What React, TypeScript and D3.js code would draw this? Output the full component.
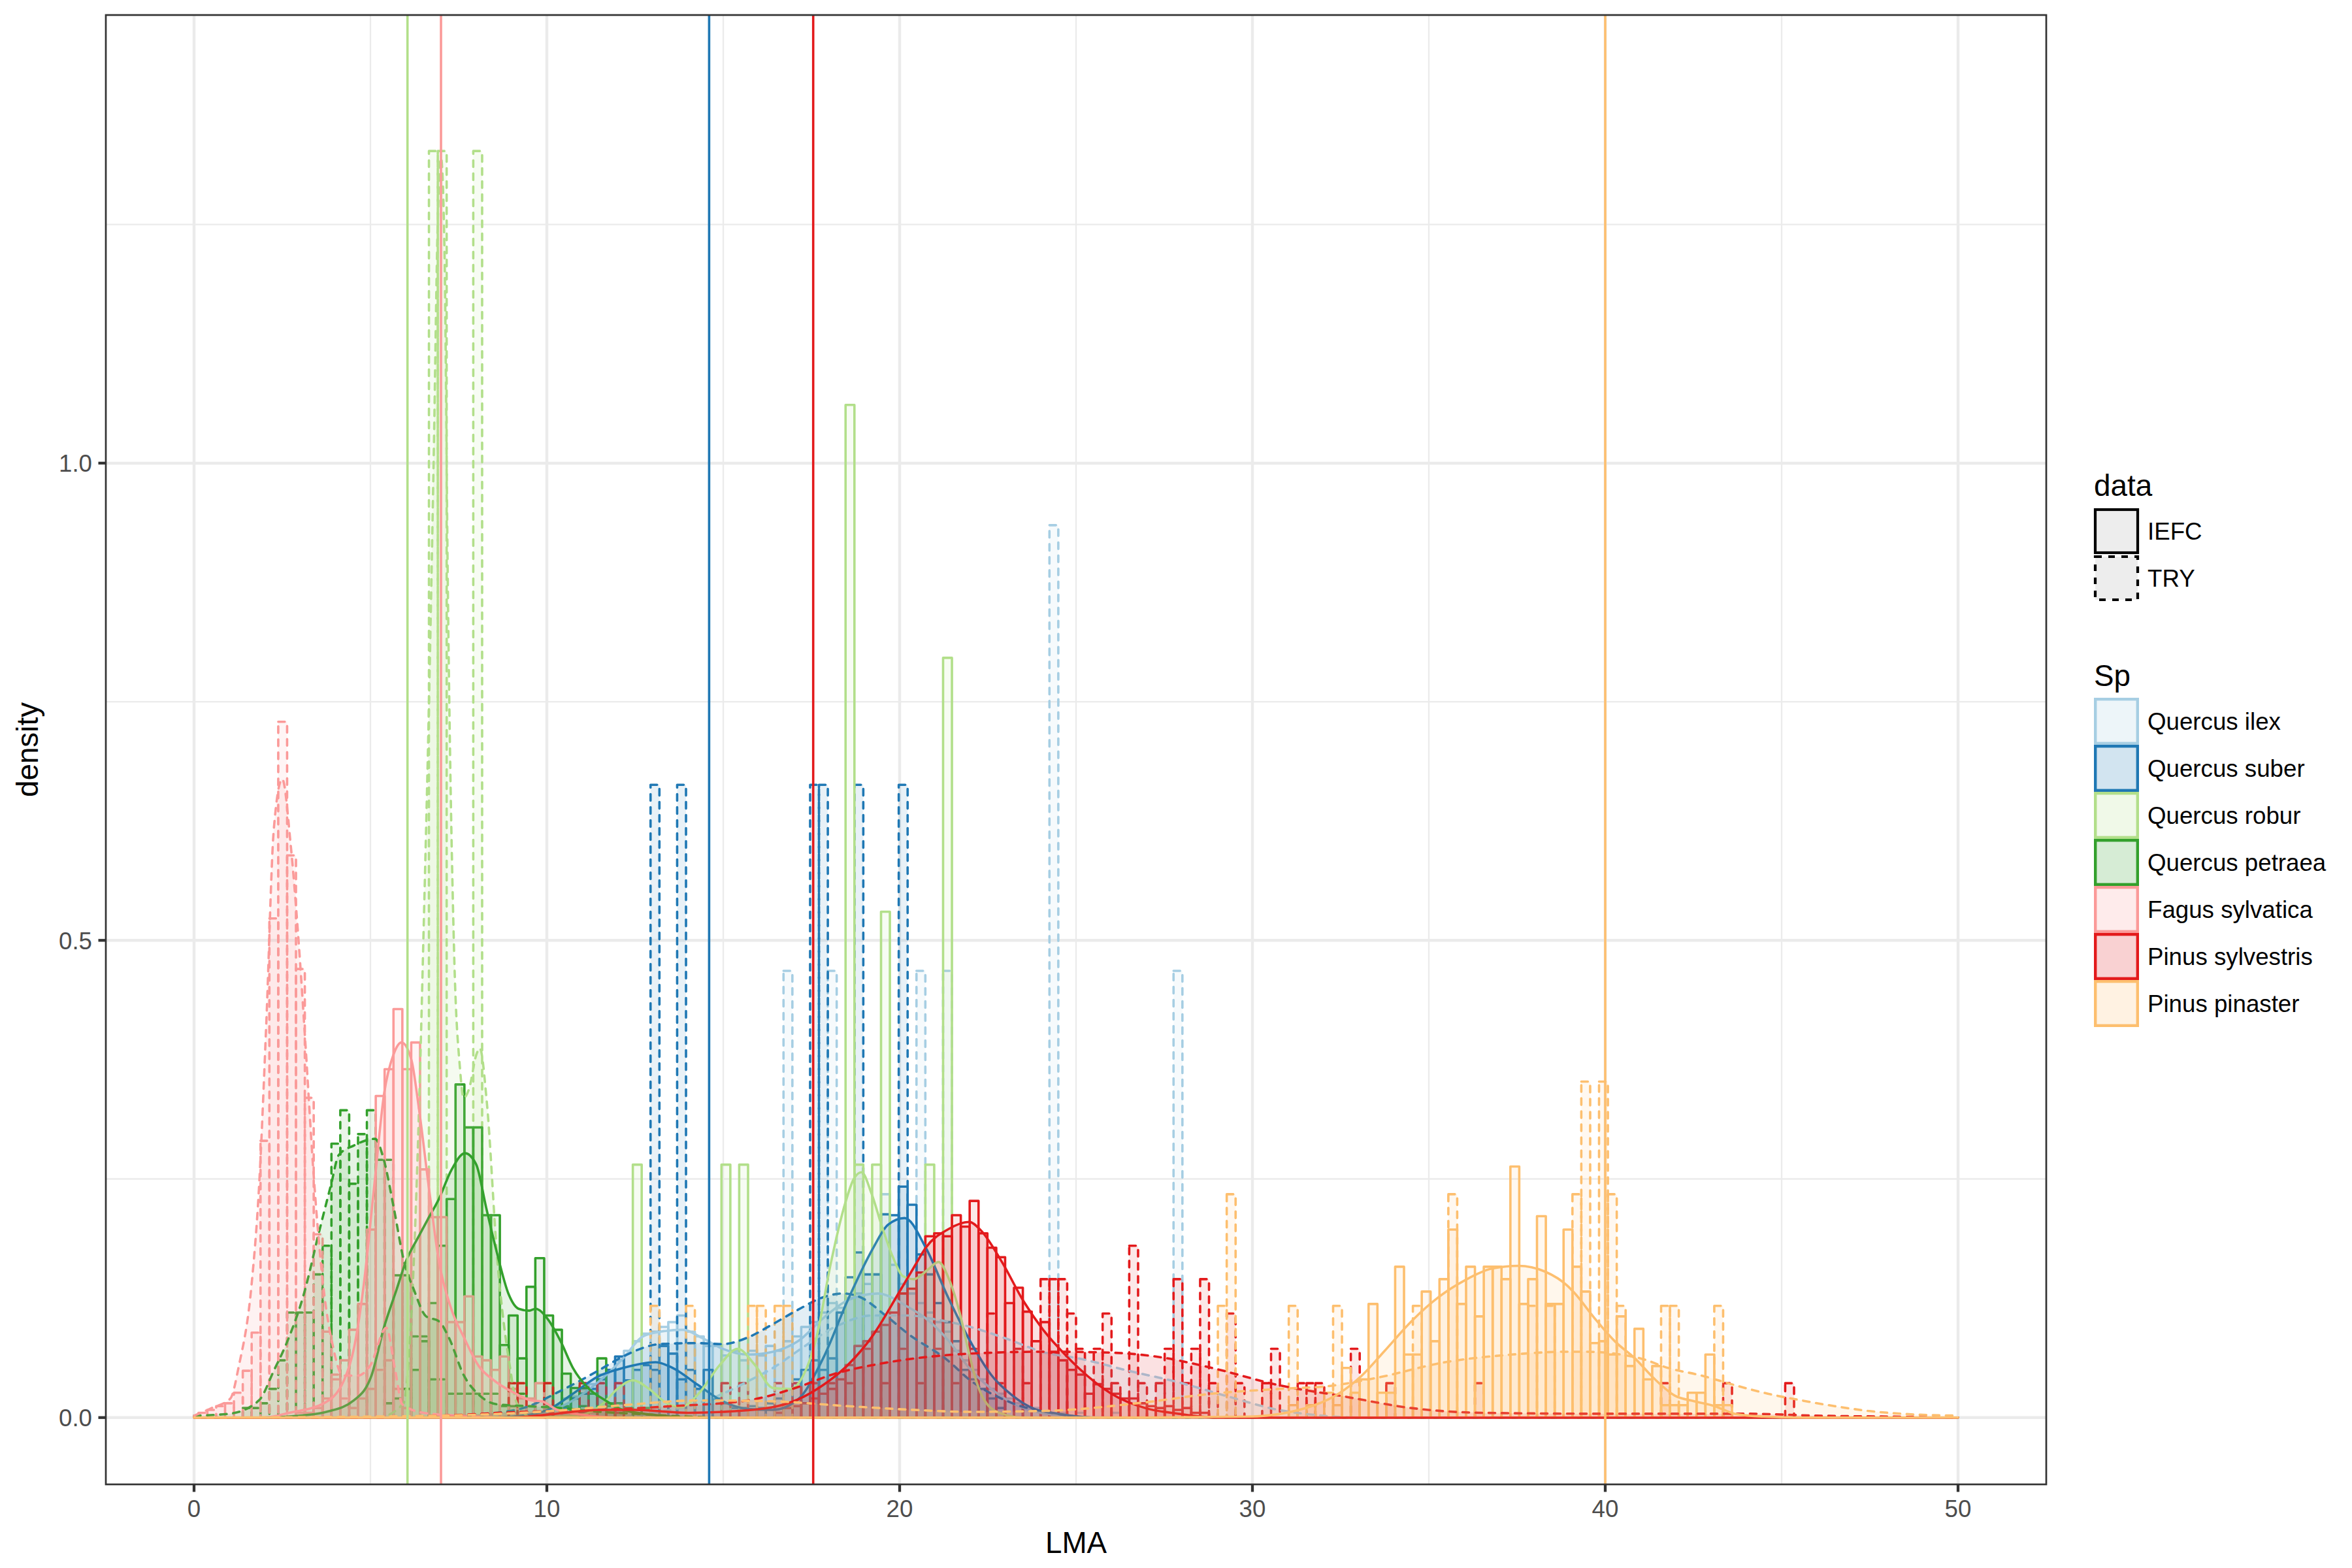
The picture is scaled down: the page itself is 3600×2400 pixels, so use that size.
import React from 'react';
import * as d3 from 'd3';

// ---------- layout constants ----------
const WIDTH = 3600;
const HEIGHT = 2400;
const PANEL = { left: 162, right: 3132, top: 23, bottom: 2272 };
const BIN_COUNT = 200; // histogram bins spanning 0..50
const BIN_W = 50 / (BIN_COUNT - 1);

// ---------- categories ----------
const species = [
  'Quercus ilex',
  'Quercus suber',
  'Quercus robur',
  'Quercus petraea',
  'Fagus sylvatica',
  'Pinus sylvestris',
  'Pinus pinaster',
];
const speciesColors = ['#A6CEE3', '#1F78B4', '#B2DF8A', '#33A02C', '#FB9A99', '#E31A1C', '#FDBF6F'];
const dataSources = ['IEFC', 'TRY'];

const xTicks = [0, 10, 20, 30, 40, 50];
const xMinor = [5, 15, 25, 35, 45];
const yTicks = [0, 0.5, 1.0];
const yMinor = [0.25, 0.75, 1.25];

// vertical reference lines
const vlineSpecies = ['Quercus robur', 'Fagus sylvatica', 'Quercus suber', 'Pinus sylvestris', 'Pinus pinaster'];
const vlineValues = [6.05, 7.0, 14.6, 17.55, 40.0];

// ---------- histogram bins: [bin index, density] ----------
const ilexIefcBins = [[40,0.01],[41,0.012],[42,0.02],[43,0.022],[44,0.03],[45,0.035],[46,0.045],[47,0.05],[48,0.06],[49,0.07],[50,0.08],[51,0.088],[52,0.09],[53,0.095],[54,0.1],[55,0.107],[56,0.09],[57,0.085],[58,0.075],[59,0.075],[60,0.065],[61,0.07],[62,0.06],[63,0.07],[64,0.065],[65,0.075],[66,0.07],[67,0.08],[68,0.085],[69,0.095],[70,0.1],[71,0.11],[72,0.12],[73,0.115],[74,0.125],[75,0.13],[76,0.14],[77,0.15],[78,0.234],[79,0.16],[80,0.14],[81,0.13],[82,0.12],[83,0.11],[84,0.1],[85,0.09],[86,0.07],[87,0.06],[88,0.05],[89,0.04],[90,0.03],[91,0.025],[92,0.02],[93,0.015],[94,0.01],[95,0.01],[96,0.005],[98,0.005],[100,0.005],[104,0.005]];
const ilexTryBins = [[67,0.468],[72,0.468],[82,0.468],[85,0.468],[97,0.935],[111,0.468]];

const suberIefcBins = [[42,0.01],[43,0.02],[44,0.025],[45,0.03],[46,0.04],[47,0.05],[48,0.064],[49,0.039],[50,0.05],[51,0.055],[52,0.05],[53,0.075],[54,0.067],[55,0.04],[56,0.05],[57,0.03],[58,0.05],[59,0.02],[60,0.015],[61,0.01],[62,0.01],[63,0.012],[64,0.01],[65,0.015],[66,0.02],[67,0.03],[68,0.04],[69,0.05],[70,0.06],[71,0.05],[72,0.062],[73,0.11],[74,0.147],[75,0.173],[76,0.15],[77,0.15],[78,0.213],[79,0.212],[80,0.242],[81,0.223],[82,0.171],[83,0.15],[84,0.12],[85,0.1],[86,0.08],[87,0.05],[88,0.04],[89,0.03],[90,0.02],[91,0.01]];
const suberTryBins = [[52,0.663],[55,0.663],[70,0.663],[71,0.663],[75,0.663],[80,0.663]];

const roburIefcBins = [[50,0.265],[60,0.265],[62,0.265],[74,1.061],[75,0.265],[77,0.265],[78,0.53],[83,0.265],[85,0.796]];
const roburTryBins = [[27,1.327],[28,1.327],[32,1.327]];

const petraeaIefcBins = [[22,0.015],[23,0.02],[24,0.03],[25,0.05],[26,0.08],[27,0.12],[28,0.18],[29,0.229],[30,0.349],[31,0.304],[32,0.304],[33,0.212],[34,0.212],[35,0.076],[36,0.107],[37,0.062],[38,0.137],[39,0.167],[40,0.107],[41,0.092],[42,0.046],[43,0.031],[44,0.031],[45,0.025],[46,0.062],[47,0.015],[48,0.015],[49,0.01],[51,0.01]];
const petraeaTryBins = [[6,0.01],[7,0.01],[8,0.015],[9,0.03],[10,0.06],[11,0.11],[12,0.11],[13,0.11],[14,0.15],[15,0.18],[16,0.287],[17,0.322],[18,0.245],[19,0.297],[20,0.322],[21,0.27],[22,0.27],[23,0.149],[24,0.149],[25,0.085],[26,0.085],[27,0.04],[28,0.04],[29,0.025],[30,0.025],[31,0.025],[32,0.025],[33,0.025],[34,0.025],[35,0.012],[36,0.012],[37,0.025],[38,0.012],[40,0.012],[42,0.012],[44,0.012],[47,0.012]];

const fagusIefcBins = [[12,0.005],[13,0.005],[14,0.01],[15,0.02],[16,0.04],[17,0.06],[18,0.092],[19,0.119],[20,0.197],[21,0.337],[22,0.365],[23,0.428],[24,0.365],[25,0.393],[26,0.26],[27,0.21],[28,0.21],[29,0.1],[30,0.1],[31,0.127],[32,0.064],[33,0.06],[34,0.05],[35,0.064],[36,0.03],[37,0.02],[38,0.02],[39,0.036],[40,0.01],[41,0.01],[43,0.005],[45,0.005]];
const fagusTryBins = [[1,0.005],[2,0.008],[3,0.012],[4,0.015],[5,0.026],[6,0.049],[7,0.089],[8,0.29],[9,0.523],[10,0.729],[11,0.589],[12,0.47],[13,0.335],[14,0.192],[15,0.09],[16,0.045],[17,0.02],[18,0.01],[19,0.02],[20,0.03],[21,0.05],[22,0.06],[23,0.03],[24,0.01]];

const sylvestrisIefcBins = [[40,0.005],[44,0.005],[48,0.005],[66,0.005],[67,0.01],[68,0.012],[69,0.015],[70,0.02],[71,0.025],[72,0.03],[73,0.04],[74,0.055],[75,0.075],[76,0.08],[77,0.09],[78,0.097],[79,0.11],[80,0.13],[81,0.135],[82,0.152],[83,0.19],[84,0.193],[85,0.19],[86,0.212],[87,0.2],[88,0.227],[89,0.193],[90,0.178],[91,0.168],[92,0.12],[93,0.136],[94,0.111],[95,0.08],[96,0.1],[97,0.068],[98,0.06],[99,0.05],[100,0.045],[101,0.025],[102,0.035],[103,0.03],[104,0.025],[105,0.02],[106,0.02],[107,0.015],[108,0.012],[109,0.01],[110,0.012],[111,0.008],[112,0.01],[113,0.005],[114,0.005]];
const sylvestrisTryBins = [[36,0.036],[37,0.036],[40,0.036],[44,0.036],[46,0.036],[48,0.036],[60,0.036],[62,0.036],[66,0.036],[68,0.036],[70,0.036],[72,0.036],[74,0.036],[76,0.072],[78,0.036],[80,0.072],[82,0.036],[84,0.072],[86,0.036],[88,0.072],[90,0.109],[91,0.036],[93,0.072],[94,0.036],[96,0.145],[97,0.145],[98,0.145],[99,0.109],[100,0.072],[102,0.072],[103,0.109],[104,0.036],[106,0.18],[107,0.036],[109,0.036],[110,0.072],[111,0.145],[112,0.036],[113,0.072],[114,0.145],[115,0.036],[117,0.109],[118,0.036],[121,0.036],[122,0.072],[125,0.036],[126,0.036],[127,0.036],[131,0.072],[135,0.036],[145,0.036],[166,0.036],[173,0.036],[180,0.036]];

const pinasterIefcBins = [[124,0.013],[126,0.013],[128,0.026],[129,0.013],[130,0.052],[131,0.026],[132,0.04],[133,0.119],[134,0.026],[135,0.026],[136,0.158],[137,0.066],[138,0.066],[139,0.132],[140,0.08],[141,0.145],[142,0.197],[143,0.119],[144,0.158],[145,0.106],[146,0.158],[147,0.158],[148,0.145],[149,0.263],[150,0.119],[151,0.145],[152,0.211],[153,0.119],[154,0.119],[155,0.197],[156,0.158],[157,0.132],[158,0.078],[159,0.08],[160,0.066],[161,0.106],[162,0.054],[163,0.093],[164,0.04],[165,0.054],[166,0.013],[167,0.013],[168,0.013],[169,0.026],[170,0.026],[171,0.066],[172,0.013],[173,0.013]];
const pinasterTryBins = [[52,0.117],[56,0.117],[63,0.117],[64,0.117],[66,0.117],[67,0.117],[116,0.117],[117,0.234],[124,0.117],[129,0.117],[138,0.117],[142,0.234],[151,0.117],[153,0.117],[156,0.234],[157,0.352],[159,0.352],[160,0.234],[161,0.117],[166,0.117],[167,0.117],[172,0.117]];

// ---------- density curves: [LMA, density] ----------
const ilexIefcDens = [[0,0],[9,0],[10.03,0.006],[10.74,0.018],[11.45,0.037],[12.16,0.062],[12.72,0.085],[13.22,0.09],[13.86,0.092],[14.42,0.083],[14.99,0.072],[15.7,0.066],[16.41,0.069],[17.12,0.08],[17.83,0.104],[18.53,0.123],[19.38,0.13],[20.23,0.116],[20.74,0.104],[21.4,0.08],[21.97,0.052],[22.6,0.03],[23.2,0.015],[24,0.005],[25,0.001],[26,0],[50,0]];
const ilexTryDens = [[0,0],[12,0],[13,0.005],[14,0.012],[14.99,0.025],[15.7,0.038],[16.41,0.052],[17.12,0.07],[18.17,0.095],[19.24,0.107],[20.23,0.107],[21,0.103],[22,0.095],[23,0.083],[24.13,0.068],[25.07,0.062],[26.49,0.049],[27.9,0.037],[29.32,0.022],[30.74,0.008],[31.7,0.003],[33,0],[50,0]];
const suberIefcDens = [[0,0],[8.5,0],[9.3,0.002],[10.03,0.008],[10.74,0.025],[11.45,0.043],[12.16,0.052],[13.08,0.058],[13.57,0.052],[14.29,0.034],[14.99,0.017],[15.7,0.009],[16.4,0.008],[17.12,0.019],[17.83,0.062],[18.53,0.123],[19.24,0.177],[19.67,0.202],[20.14,0.209],[20.74,0.178],[21.36,0.127],[21.97,0.082],[22.59,0.045],[23.2,0.023],[23.82,0.009],[24.5,0.004],[25.5,0],[50,0]];
const suberTryDens = [[0,0],[6.5,0],[8,0.003],[9.33,0.01],[10.39,0.028],[11.45,0.049],[12.16,0.064],[13.22,0.077],[14.29,0.078],[14.99,0.077],[15.7,0.084],[16.41,0.098],[17.12,0.113],[17.83,0.126],[18.39,0.13],[18.89,0.126],[19.6,0.107],[20.23,0.088],[21.36,0.06],[21.97,0.04],[23.2,0.015],[24.3,0.005],[25.5,0],[50,0]];
const roburIefcDens = [[0,0],[9.5,0],[11,0.003],[11.6,0.015],[12.0,0.03],[12.44,0.039],[12.9,0.03],[13.4,0.015],[13.8,0.011],[14.3,0.025],[14.9,0.055],[15.41,0.072],[15.9,0.055],[16.41,0.031],[16.9,0.03],[17.28,0.045],[17.65,0.085],[18.04,0.16],[18.46,0.225],[18.7,0.25],[18.92,0.257],[19.2,0.235],[19.5,0.2],[19.81,0.168],[20.1,0.148],[20.4,0.145],[20.8,0.155],[21.1,0.163],[21.4,0.145],[21.7,0.11],[21.97,0.067],[22.2,0.035],[22.46,0.015],[22.9,0.004],[23.5,0],[50,0]];
const roburTryDens = [[0,0],[5.2,0],[5.94,0.015],[6.09,0.064],[6.23,0.164],[6.37,0.315],[6.51,0.515],[6.66,0.75],[6.8,1.02],[6.9,1.24],[7.0,1.32],[7.1,1.22],[7.2,0.85],[7.37,0.49],[7.54,0.365],[7.64,0.335],[7.8,0.345],[8.0,0.38],[8.1,0.387],[8.3,0.33],[8.6,0.164],[8.95,0.054],[9.15,0.015],[9.6,0],[50,0]];
const petraeaIefcDens = [[0,0],[2,0],[3,0.002],[3.75,0.006],[4.53,0.018],[5.03,0.044],[5.38,0.094],[5.74,0.134],[6.01,0.164],[6.37,0.19],[6.66,0.21],[6.94,0.229],[7.29,0.259],[7.68,0.277],[8.0,0.265],[8.28,0.22],[8.57,0.175],[8.92,0.129],[9.2,0.114],[9.5,0.112],[9.68,0.114],[10.03,0.103],[10.39,0.08],[10.74,0.052],[11.17,0.031],[11.66,0.018],[12.16,0.008],[13,0.003],[14,0],[50,0]];
const petraeaTryDens = [[0,0.002],[1,0.004],[1.84,0.018],[2.26,0.049],[2.69,0.084],[3.11,0.129],[3.54,0.194],[3.89,0.245],[4.1,0.275],[4.53,0.285],[5.13,0.292],[5.38,0.27],[5.66,0.22],[5.95,0.164],[6.23,0.134],[6.58,0.106],[6.94,0.101],[7.22,0.084],[7.65,0.044],[8.07,0.024],[8.57,0.014],[9.42,0.012],[10.4,0.01],[11.5,0.006],[12.5,0.004],[14,0.001],[15,0],[50,0]];
const fagusIefcDens = [[0,0],[2,0],[2.69,0.005],[3.68,0.015],[4.25,0.039],[4.54,0.074],[4.81,0.139],[5.1,0.24],[5.39,0.34],[5.65,0.38],[5.88,0.393],[6.16,0.375],[6.37,0.325],[6.66,0.24],[6.94,0.164],[7.29,0.114],[7.65,0.084],[8.07,0.054],[8.5,0.039],[9.07,0.026],[9.56,0.018],[9.86,0.017],[10.3,0.008],[11,0.003],[12,0],[50,0]];
const fagusTryDens = [[0,0.002],[0.5,0.01],[1.03,0.02],[1.27,0.054],[1.63,0.139],[1.84,0.24],[2.05,0.415],[2.26,0.616],[2.5,0.669],[2.74,0.6],[2.95,0.506],[3.16,0.39],[3.37,0.265],[3.66,0.139],[3.94,0.074],[4.22,0.044],[4.65,0.044],[5.0,0.055],[5.45,0.094],[5.7,0.05],[5.9,0.014],[6.5,0.005],[7.5,0.002],[9,0],[50,0]];
const sylvestrisIefcDens = [[0,0],[9,0],[10,0.003],[11.5,0.008],[12.5,0.008],[14,0.005],[14.99,0.006],[16.41,0.011],[17.12,0.019],[17.83,0.034],[18.53,0.055],[19.24,0.086],[19.95,0.129],[20.43,0.159],[20.74,0.178],[21.36,0.197],[21.97,0.205],[22.28,0.197],[22.9,0.163],[23.51,0.122],[24.13,0.089],[24.74,0.064],[25.07,0.052],[26.0,0.025],[26.96,0.01],[27.9,0.004],[29,0],[50,0]];
const sylvestrisTryDens = [[0,0],[5,0],[7,0.002],[9.33,0.006],[11.45,0.008],[13.57,0.012],[15.7,0.018],[17.12,0.032],[18.17,0.046],[19.24,0.055],[20.43,0.062],[22,0.067],[24.13,0.069],[26,0.068],[27.43,0.063],[28.85,0.052],[30.74,0.034],[32.62,0.022],[34.5,0.01],[36.5,0.005],[40,0.004],[44,0.004],[46,0.002],[48,0.001],[50,0]];
const pinasterIefcDens = [[0,0],[27,0],[29.9,0.001],[31.68,0.012],[32.44,0.025],[33.1,0.044],[33.75,0.07],[34.51,0.101],[35.27,0.126],[36.03,0.144],[36.78,0.156],[37.54,0.159],[38.29,0.153],[38.93,0.138],[39.14,0.13],[39.7,0.104],[40.27,0.08],[40.84,0.062],[41.41,0.04],[41.97,0.023],[42.54,0.017],[43.1,0.012],[43.67,0.004],[44.5,0.001],[45.5,0],[50,0]];
const pinasterTryDens = [[0,0],[5,0.001],[8,0.003],[10.2,0.007],[12.16,0.013],[14.29,0.018],[16.41,0.017],[18.53,0.012],[20.43,0.008],[22,0.006],[24.13,0.007],[26.96,0.016],[28.85,0.025],[30.74,0.03],[32.16,0.033],[33.57,0.042],[35.46,0.058],[37.35,0.066],[38.93,0.069],[39.42,0.069],[41.0,0.062],[41.78,0.052],[42.73,0.044],[43.67,0.034],[44.61,0.025],[45.56,0.018],[46.5,0.012],[47.45,0.007],[48.39,0.004],[50,0.002]];

// group table: species x data source
const histBySpecies = [
  [ilexIefcBins, ilexTryBins],
  [suberIefcBins, suberTryBins],
  [roburIefcBins, roburTryBins],
  [petraeaIefcBins, petraeaTryBins],
  [fagusIefcBins, fagusTryBins],
  [sylvestrisIefcBins, sylvestrisTryBins],
  [pinasterIefcBins, pinasterTryBins],
];
const densBySpecies = [
  [ilexIefcDens, ilexTryDens],
  [suberIefcDens, suberTryDens],
  [roburIefcDens, roburTryDens],
  [petraeaIefcDens, petraeaTryDens],
  [fagusIefcDens, fagusTryDens],
  [sylvestrisIefcDens, sylvestrisTryDens],
  [pinasterIefcDens, pinasterTryDens],
];

const FONT = 'Liberation Sans, Arial, Helvetica, sans-serif';
const LINE_W = 3.6;
const DASH = '10 10';

export default function App() {
  const x = d3.scaleLinear().domain([-2.5, 52.5]).range([PANEL.left, PANEL.right]);
  const y = d3.scaleLinear().domain([-0.07, 1.4695]).range([PANEL.bottom, PANEL.top]);
  const colorOf = d3.scaleOrdinal<string, string>().domain(species).range(speciesColors);

  const line = d3.line<number[]>().x(d => x(d[0])).y(d => y(d[1])).curve(d3.curveMonotoneX);
  const area = d3.area<number[]>().x(d => x(d[0])).y0(y(0)).y1(d => y(d[1])).curve(d3.curveMonotoneX);

  const histLayers: React.ReactNode[] = [];
  const densLayers: React.ReactNode[] = [];
  species.forEach((sp, si) => {
    const col = colorOf(sp);
    dataSources.forEach((src, di) => {
      const bins = histBySpecies[si][di];
      const dash = src === 'TRY' ? DASH : undefined;
      histLayers.push(
        <g key={`h-${sp}-${src}`}>
          {bins.map(([k, d]) => {
            const x0 = x(k * BIN_W - BIN_W / 2);
            const x1 = x(k * BIN_W + BIN_W / 2);
            const yt = y(d);
            const yb = y(0);
            return (
              <rect key={k} x={x0} y={yt} width={x1 - x0} height={yb - yt}
                fill={col} fillOpacity={0.1} stroke={col} strokeWidth={LINE_W}
                strokeDasharray={dash} strokeLinejoin="round" strokeLinecap="round" />
            );
          })}
        </g>
      );
      const dens = densBySpecies[si][di];
      densLayers.push(
        <g key={`d-${sp}-${src}`}>
          <path d={area(dens) || ''} fill={col} fillOpacity={0.13} stroke="none" />
          <path d={line(dens) || ''} fill="none" stroke={col} strokeWidth={LINE_W}
            strokeDasharray={dash} strokeLinecap="round" strokeLinejoin="round" />
        </g>
      );
    });
  });

  const keyX = 3205;
  const keyW = 69;
  const keyH = 72;
  const dataKeyTop = 777;
  const spKeyTop = 1068;
  const labelX = 3287;

  return (
    <svg width={WIDTH} height={HEIGHT} viewBox={`0 0 ${WIDTH} ${HEIGHT}`}
      style={{ position: 'absolute', left: 0, top: 0, display: 'block', background: '#fff' }}
      fontFamily={FONT}>
      <rect x={0} y={0} width={WIDTH} height={HEIGHT} fill="#ffffff" />
      <defs>
        <clipPath id="panelClip">
          <rect x={PANEL.left} y={PANEL.top} width={PANEL.right - PANEL.left} height={PANEL.bottom - PANEL.top} />
        </clipPath>
      </defs>

      {/* grid */}
      <g stroke="#EBEBEB">
        {yMinor.map(v => (
          <line key={`ym${v}`} x1={PANEL.left} x2={PANEL.right} y1={y(v)} y2={y(v)} strokeWidth={2.3} />
        ))}
        {xMinor.map(v => (
          <line key={`xm${v}`} y1={PANEL.top} y2={PANEL.bottom} x1={x(v)} x2={x(v)} strokeWidth={2.3} />
        ))}
        {yTicks.map(v => (
          <line key={`yM${v}`} x1={PANEL.left} x2={PANEL.right} y1={y(v)} y2={y(v)} strokeWidth={4.5} />
        ))}
        {xTicks.map(v => (
          <line key={`xM${v}`} y1={PANEL.top} y2={PANEL.bottom} x1={x(v)} x2={x(v)} strokeWidth={4.5} />
        ))}
      </g>

      <g clipPath="url(#panelClip)">
        {histLayers}
        {densLayers}
        {vlineValues.map((v, i) => (
          <line key={`vl${i}`} x1={x(v)} x2={x(v)} y1={PANEL.top} y2={PANEL.bottom}
            stroke={colorOf(vlineSpecies[i])} strokeWidth={3.6} />
        ))}
      </g>

      {/* panel border */}
      <rect x={PANEL.left} y={PANEL.top} width={PANEL.right - PANEL.left} height={PANEL.bottom - PANEL.top}
        fill="none" stroke="#333333" strokeWidth={2.7} />

      {/* axes ticks */}
      <g stroke="#333333" strokeWidth={4.3}>
        {xTicks.map(v => (
          <line key={`xt${v}`} x1={x(v)} x2={x(v)} y1={PANEL.bottom} y2={PANEL.bottom + 11.5} />
        ))}
        {yTicks.map(v => (
          <line key={`yt${v}`} x1={PANEL.left - 11.5} x2={PANEL.left} y1={y(v)} y2={y(v)} />
        ))}
      </g>
      <g fill="#4D4D4D" fontSize={36.7}>
        {xTicks.map(v => (
          <text key={`xl${v}`} x={x(v)} y={2322} textAnchor="middle">{String(v)}</text>
        ))}
        {yTicks.map(v => (
          <text key={`yl${v}`} x={141} y={y(v)} dy="0.36em" textAnchor="end">{v.toFixed(1)}</text>
        ))}
      </g>
      <text x={(PANEL.left + PANEL.right) / 2} y={2377} textAnchor="middle" fontSize={45.8} fill="#000">LMA</text>
      <text transform={`translate(58, ${(PANEL.top + PANEL.bottom) / 2}) rotate(-90)`} textAnchor="middle"
        fontSize={45.8} fill="#000">density</text>

      {/* legend: data */}
      <text x={keyX} y={759} fontSize={45.8} fill="#000">data</text>
      {dataSources.map((src, i) => (
        <g key={`lk${src}`}>
          <rect x={keyX + 2} y={dataKeyTop + i * keyH + 3} width={keyW - 4} height={keyH - 6}
            fill="#EDEDED" stroke="#000" strokeWidth={4.2}
            strokeDasharray={src === 'TRY' ? DASH : undefined} />
          <text x={labelX} y={dataKeyTop + i * keyH + keyH / 2} dy="0.36em" fontSize={36.7} fill="#000">{src}</text>
        </g>
      ))}

      {/* legend: species */}
      <text x={keyX} y={1050} fontSize={45.8} fill="#000">Sp</text>
      {species.map((sp, i) => (
        <g key={`ls${sp}`}>
          <rect x={keyX} y={spKeyTop + i * keyH} width={keyW} height={keyH} fill="#ffffff" />
          <rect x={keyX + 2.2} y={spKeyTop + i * keyH + 2.2} width={keyW - 4.4} height={keyH - 4.4}
            fill={colorOf(sp)} fillOpacity={0.2} stroke={colorOf(sp)} strokeWidth={4.4} />
          <text x={labelX} y={spKeyTop + i * keyH + keyH / 2} dy="0.36em" fontSize={36.7} fill="#000">{sp}</text>
        </g>
      ))}
    </svg>
  );
}
